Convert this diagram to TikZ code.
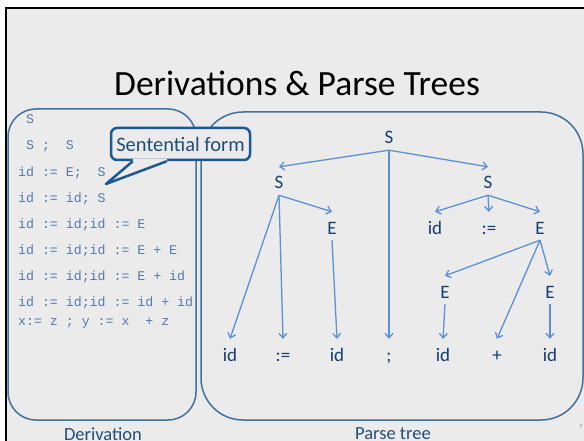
\documentclass[tikz,border=0pt]{standalone}
\usepackage{fontspec}
\setmainfont{Carlito}
\newfontfamily\derivmono{Liberation Mono}
\usetikzlibrary{arrows.meta}
\definecolor{bgc}{RGB}{235,235,235}
\definecolor{boxc}{RGB}{65,113,156}
\definecolor{arrc}{RGB}{91,145,210}
\definecolor{labc}{RGB}{24,62,112}
\definecolor{capc}{RGB}{31,78,121}
\definecolor{derc}{RGB}{84,122,170}
\definecolor{callc}{RGB}{28,88,148}
\tikzset{
  tn/.style={font=\fontsize{19}{19}\selectfont, text=labc, inner sep=0pt, text height=22pt, text depth=6pt},
  arr/.style={draw=arrc, line width=1.3pt, -{Straight Barb[length=4.5pt,width=8pt]}},
  dl/.style={anchor=base west, inner sep=0pt, text=derc, font=\derivmono\fontsize{13.25}{14}\selectfont},
  bigbox/.style={draw=boxc, line width=1.5pt, inner sep=0pt},
  boxcaption/.style={anchor=base, inner sep=0pt, text=capc, font=\fontsize{18.5}{19}\selectfont},
  calline/.style={draw=callc, line width=2.5pt}
}
\begin{document}
\begin{tikzpicture}[x=1pt,y=-1pt]
\useasboundingbox (0,0) rectangle (584,441);
\fill[white] (0,0) rectangle (584,441);
\fill[bgc] (5,7) rectangle (584,441);
\draw[black, line width=2pt] (5.7,441) -- (5.7,8) -- (584,8);

% title
\node[anchor=base, inner sep=0pt, font=\fontsize{35.5}{36}\selectfont] (title) at (297,96) {Derivations \& Parse Trees};

% containers
\node[bigbox, rounded corners=28pt, minimum width=188pt, minimum height=311pt] (derivbox) at (102,264.5) {};
\node[bigbox, rounded corners=42pt, minimum width=382pt, minimum height=308pt] (treebox) at (392,266) {};

% captions
\node[boxcaption] (derivcap) at (103,440) {Derivation};
\node[boxcaption] (treecap) at (393,439) {Parse tree};
\node[anchor=base, inner sep=0pt, text=gray, font=\fontsize{6}{6}\selectfont] (pageno) at (581,428) {7};

% derivation lines
\node[dl] (d1) at (18,124) {~S};
\node[dl] (d2) at (18,150) {~S~;~~S};
\node[dl] (d3) at (18,176.5) {id~:=~E;~~S};
\node[dl] (d4) at (18,202) {id~:=~id;~S};
\node[dl] (d5) at (18,228) {id~:=~id;id~:=~E};
\node[dl] (d6) at (18,254) {id~:=~id;id~:=~E~+~E};
\node[dl] (d7) at (18,280) {id~:=~id;id~:=~E~+~id};
\node[dl] (d8) at (18,306) {id~:=~id;id~:=~id~+~id};
\node[dl] (d9) at (18,325.5) {x:=~z~;~y~:=~x~~+~z};

% callout
\node[calline, fill=bgc, rounded corners=6pt, minimum width=139pt, minimum height=32pt, inner sep=0pt,
      text=capc, font=\fontsize{20.5}{21}\selectfont] (callout) at (180.5,144) {Sentential form};
\coordinate (tip) at (106,184);
\fill[bgc] ([xshift=23pt,yshift=2.5pt]callout.south west) -- ([xshift=57pt,yshift=2.5pt]callout.south west)
  -- ([xshift=57pt]callout.south west) -- (tip) -- ([xshift=23pt]callout.south west) -- cycle;
\draw[calline, line join=round] ([xshift=23pt]callout.south west) -- (tip) -- ([xshift=57pt]callout.south west);

% parse tree nodes
\node[tn] (root) at (389,136) {S};
\node[tn] (sL) at (279,181) {S};
\node[tn] (sR) at (488,181) {S};
\node[tn] (eL) at (332,226) {E};
\node[tn] (idR) at (435,226) {id};
\node[tn] (asR) at (489,226) {:=};
\node[tn] (eR) at (540,226) {E};
\node[tn] (e1) at (445,290) {E};
\node[tn] (e2) at (550,290) {E};
\node[tn] (b1) at (230,353) {id};
\node[tn] (b2) at (283,353) {:=};
\node[tn] (b3) at (337,353) {id};
\node[tn] (b4) at (389,353) {;};
\node[tn] (b5) at (443,353) {id};
\node[tn] (b6) at (497,353) {+};
\node[tn] (b7) at (550,353) {id};

% edges
\draw[arr] (root.south) -- (sL.north);
\draw[arr] (root.south) -- (sR.north);
\draw[arr] (root.south) -- (b4.north);
\draw[arr] (sL.south) -- (b1.north);
\draw[arr] (sL.south) -- (b2.north);
\draw[arr] (sL.south) -- (eL.north);
\draw[arr] (eL.south) -- (b3.north);
\draw[arr] (sR.south) -- (idR.north);
\draw[arr] (sR.south) -- (asR.north);
\draw[arr] (sR.south) -- (eR.north);
\draw[arr] (eR.south) -- (e1.north);
\draw[arr] (eR.south) -- (b6.north);
\draw[arr] (eR.south) -- (e2.north);
\draw[arr] (e1.south) -- (b5.north);
\draw[arr] (e2.south) -- (b7.north);
\end{tikzpicture}
\end{document}
